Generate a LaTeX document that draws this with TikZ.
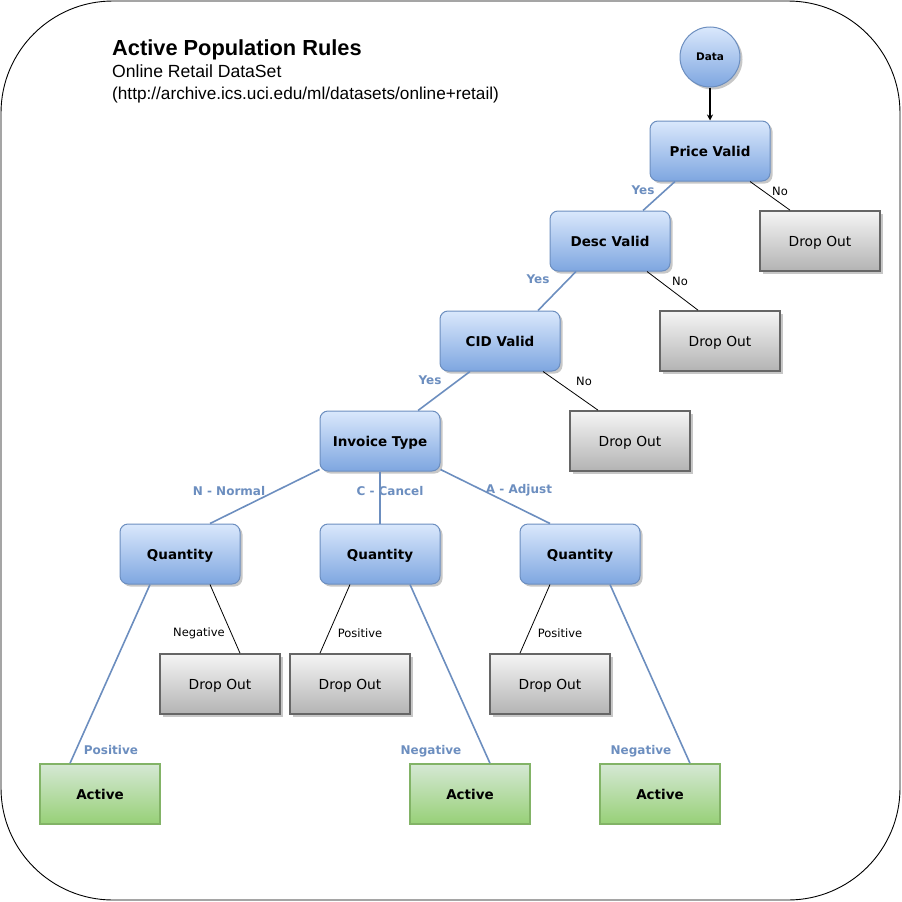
\documentclass[tikz,border=0pt]{standalone}
\usepackage{fontspec}
\setmainfont{DejaVu Sans}
\newfontfamily\arialfont{Liberation Sans}
\usetikzlibrary{shadows,arrows.meta,calc}
\definecolor{bstroke}{HTML}{6C8EBF}
\definecolor{btop}{HTML}{DAE8FC}
\definecolor{bbot}{HTML}{7EA6E0}
\definecolor{gstroke}{HTML}{666666}
\definecolor{gtop}{HTML}{F5F5F5}
\definecolor{gbot}{HTML}{B3B3B3}
\definecolor{grstroke}{HTML}{82B366}
\definecolor{grtop}{HTML}{D5E8D4}
\definecolor{grbot}{HTML}{97D077}
\tikzset{
  x=1pt, y=1pt,
  box/.style={minimum width=120pt, minimum height=60pt, inner sep=0pt, line width=1pt,
    text height=12.6pt, text depth=1.2pt},
  bluebox/.style={box, rounded corners=8pt, draw=bstroke, top color=btop, bottom color=bbot,
    drop shadow={shadow xshift=2.5pt, shadow yshift=-2.5pt, fill=black, opacity=0.22},
    font=\fontsize{13.5}{16}\selectfont\bfseries},
  graybox/.style={box, line width=1.7pt, draw=gstroke, top color=gtop, bottom color=gbot,
    drop shadow={shadow xshift=2.5pt, shadow yshift=-2.5pt, fill=black, opacity=0.22},
    font=\fontsize{13.8}{16}\selectfont},
  greenbox/.style={box, line width=1.4pt, draw=grstroke, top color=grtop, bottom color=grbot,
    font=\fontsize{13.5}{16}\selectfont\bfseries},
  bedge/.style={draw=bstroke, line width=1.6pt},
  kedge/.style={draw=black, line width=0.8pt},
  blab/.style={text=bstroke, font=\fontsize{12}{14}\selectfont\bfseries, inner sep=0pt},
  klab/.style={text=black, font=\fontsize{11.5}{14}\selectfont, inner sep=0pt},
}
\begin{document}
\begin{tikzpicture}
\useasboundingbox (0,0) rectangle (902,-902);
\draw[line width=0.9pt, rounded corners=112pt] (1,-1) rectangle (900,-900);

% title
\node[anchor=base west, inner sep=0pt, font=\arialfont\fontsize{21.8}{24}\selectfont\bfseries] (title) at (112,-55) {Active Population Rules};
\node[anchor=base west, inner sep=0pt, font=\arialfont\fontsize{17.6}{19}\selectfont] (sub) at (112,-77) {Online Retail DataSet};
\node[anchor=base west, inner sep=0pt, font=\arialfont\fontsize{17.2}{19}\selectfont] (url) at (112,-99) {(http://archive.ics.uci.edu/ml/datasets/online+retail)};

% nodes
\node[circle, minimum size=60pt, inner sep=0pt, line width=1pt, draw=bstroke, top color=btop, bottom color=bbot,
  drop shadow={shadow xshift=2.5pt, shadow yshift=-2.5pt, fill=black, opacity=0.22},
  font=\fontsize{10.5}{12}\selectfont\bfseries] (data) at (710,-57) {Data};
\node[bluebox] (pv) at (710,-151) {Price Valid};
\node[graybox] (do1) at (820,-241) {Drop Out};
\node[bluebox] (dv) at (610,-241) {Desc Valid};
\node[graybox] (do2) at (720,-341) {Drop Out};
\node[bluebox] (cid) at (500,-341) {CID Valid};
\node[graybox] (do3) at (630,-441) {Drop Out};
\node[bluebox] (inv) at (380,-441) {Invoice Type};
\node[bluebox] (q1) at (180,-554) {Quantity};
\node[bluebox] (q2) at (380,-554) {Quantity};
\node[bluebox] (q3) at (580,-554) {Quantity};
\node[graybox] (do4) at (220,-684) {Drop Out};
\node[graybox] (do5) at (350,-684) {Drop Out};
\node[graybox] (do6) at (550,-684) {Drop Out};
\node[greenbox] (a1) at (100,-794) {Active};
\node[greenbox] (a2) at (470,-794) {Active};
\node[greenbox] (a3) at (660,-794) {Active};

% edges
\draw[line width=1.4pt, -{Stealth[length=6pt,width=6pt]}] (data) -- (pv);
\draw[bedge] ($(pv.south)+(-35,0)$) -- ($(dv.north)+(33,0)$);
\draw[kedge] ($(pv.south)+(40,0)$) -- ($(do1.north)+(-30,0)$);
\draw[bedge] ($(dv.south)+(-34,0)$) -- ($(cid.north)+(38,0)$);
\draw[kedge] ($(dv.south)+(37,0)$) -- ($(do2.north)+(-22,0)$);
\draw[bedge] ($(cid.south)+(-30,0)$) -- ($(inv.north)+(38,0)$);
\draw[kedge] ($(cid.south)+(43,0)$) -- ($(do3.north)+(-32,0)$);
\draw[bedge] ($(inv.south west)+(0,2)$) -- ($(q1.north)+(30,0)$);
\draw[bedge] (inv.south) -- (q2.north);
\draw[bedge] ($(inv.south east)+(0,2)$) -- ($(q3.north)+(-30,0)$);
\draw[kedge] ($(q1.south)+(30,0)$) -- ($(do4.north)+(20,0)$);
\draw[bedge] ($(q1.south)+(-30,0)$) -- ($(a1.north)+(-30,0)$);
\draw[kedge] ($(q2.south)+(-30,0)$) -- ($(do5.north)+(-30,0)$);
\draw[bedge] ($(q2.south)+(30,0)$) -- ($(a2.north)+(20,0)$);
\draw[kedge] ($(q3.south)+(-30,0)$) -- ($(do6.north)+(-30,0)$);
\draw[bedge] ($(q3.south)+(30,0)$) -- ($(a3.north)+(30,0)$);

% labels
\node[blab] (l1) at (643,-190) {Yes};
\node[klab] (l2) at (780,-191) {No};
\node[blab] (l3) at (538,-279) {Yes};
\node[klab] (l4) at (680,-281) {No};
\node[blab] (l5) at (430,-380) {Yes};
\node[klab] (l6) at (584,-381) {No};
\node[blab] (l7) at (229,-491) {N - Normal};
\node[blab] (l8) at (390,-491) {C - Cancel};
\node[blab] (l9) at (519,-490) {A - Adjust};
\node[klab] (l10) at (199,-633) {Negative};
\node[blab] (l11) at (111,-750) {Positive};
\node[klab] (l12) at (360,-633) {Positive};
\node[blab] (l13) at (431,-751) {Negative};
\node[klab] (l14) at (560,-633) {Positive};
\node[blab] (l15) at (641,-751) {Negative};
\end{tikzpicture}
\end{document}
